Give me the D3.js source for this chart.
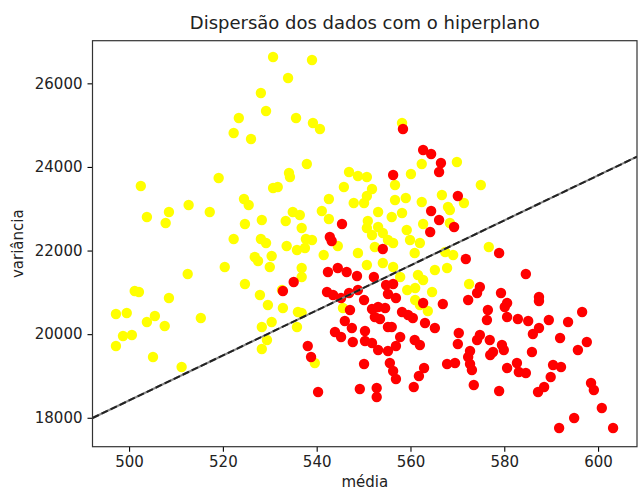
<!DOCTYPE html>
<html>
<head>
<meta charset="utf-8">
<script src="https://cdn.jsdelivr.net/npm/d3@7"></script>
<style>
  body { margin: 0; background: #fff; }
  svg { display: block; font-family: "DejaVu Sans", sans-serif; }
</style>
</head>
<body>
<div id="chart"></div>
<script>
// pontos da classe amarela: [média, variância]
let amarelos = [
  [530.7,26630],[539.0,26558],[533.9,26127],[528.1,25768],[529.2,25338],[523.4,25170],[522.3,24812],[526.0,24668],
  [535.6,25170],[539.2,25051],[540.7,24907],[558.2,25051],[502.5,23544],[519.1,23735],[524.5,23233],[525.5,23089],
  [503.8,22802],[508.5,22922],[507.8,22659],[512.7,23089],[517.2,22922],[524.7,22635],[528.3,22731],[522.3,22276],
  [528.1,22276],[529.2,22180],[526.8,21845],[527.5,21750],[530.0,21606],[520.4,21606],[512.5,21439],[524.7,21200],
  [527.9,20937],[501.2,21032],[502.1,21008],[508.5,20865],[497.2,20482],[499.5,20506],[503.8,20291],[505.5,20434],
  [507.6,20195],[515.3,20386],[498.7,19956],[500.6,19980],[497.2,19717],[505.1,19453],[511.2,19214],[528.3,20171],
  [530.4,20291],[528.3,19645],[529.4,19860],[537.9,24070],[534.1,23855],[534.3,23759],[530.7,23496],[531.7,23520],
  [546.9,23879],[548.8,23783],[550.7,23759],[545.8,23520],[551.8,23472],[550.7,23305],[542.6,23233],[547.9,23137],
  [550.1,23137],[556.7,23209],[559.0,23257],[562.4,23161],[562.4,24070],[560.1,23831],[556.7,23568],[569.9,24118],
  [575.0,23568],[566.7,23329],[571.4,23137],[568.0,23041],[568.4,22970],[568.4,22659],[541.1,22946],[534.9,22922],
  [536.4,22850],[533.4,22707],[542.6,22755],[553.1,22922],[556.0,22802],[558.2,22898],[550.9,22707],[562.7,22635],
  [559.2,22491],[553.1,22563],[554.1,22420],[550.7,22539],[536.8,22539],[537.7,22276],[539.0,22252],[533.6,22109],
  [535.8,22013],[537.5,22061],[551.8,22372],[555.2,22252],[556.3,22180],[559.9,22252],[562.0,22180],[552.4,22085],
  [548.8,21941],[544.5,22109],[541.5,21893],[530.4,21870],[567.4,21965],[569.1,21893],[560.9,21941],[576.7,22085],
  [567.8,21582],[572.5,21200],[550.7,21654],[554.1,21702],[556.3,21606],[557.8,21367],[561.6,21415],[562.7,21295],
  [559.3,21056],[561.0,21104],[564.6,21008],[561.0,20817],[562.0,20698],[563.7,20554],[565.2,21535],[536.8,21583],
  [536.8,21367],[532.6,21056],[529.6,20697],[532.8,20625],[536.0,20530],[536.8,20506],[535.8,20171],[539.6,19310],
  [545.6,20625]
]

// pontos da classe vermelha
let vermelhos = [
  [558.4,24907],[562.7,24405],[564.4,24309],[566.5,24094],[566.1,23879],[556.3,23807],[570.1,23305],[564.4,22946],
  [566.1,22731],[569.3,22563],[564.2,22444],[545.4,22635],[542.8,22324],[543.2,22228],[554.1,22037],[578.9,21941],
  [571.8,21798],[584.6,21439],[542.4,21486],[544.5,21582],[546.4,21486],[548.6,21391],[552.2,21367],[535.1,21248],
  [532.8,21032],[542.2,21008],[543.5,20937],[545.2,20865],[546.9,20984],[548.8,21056],[554.8,21176],[556.3,21200],
  [555.2,20960],[556.9,20865],[550.1,20817],[547.1,20578],[551.8,20602],[553.1,20650],[554.6,20626],[552.4,20410],
  [553.5,20362],[558.2,20530],[559.5,20458],[560.5,20386],[562.7,20745],[566.9,20721],[546.0,20315],[543.9,20052],
  [545.2,19932],[547.5,20147],[550.3,20075],[547.7,19812],[555.2,20171],[556.0,20171],[563.1,20267],[565.2,20147],
  [557.8,19932],[550.3,19836],[551.8,19788],[560.9,19860],[562.0,19741],[553.1,19621],[555.2,19597],[556.9,19717],
  [538.1,19717],[538.8,19453],[550.1,19286],[555.6,19310],[556.3,19119],[556.9,18927],[562.9,19190],[561.8,19000],
  [567.8,19286],[540.3,18616],[549.2,18688],[552.8,18712],[552.8,18497],[560.7,18736],[574.8,21128],[574.2,20984],
  [572.3,20817],[579.3,20984],[587.4,20889],[587.4,20793],[580.6,20745],[580.1,20650],[576.5,20578],[576.3,20339],
  [580.6,20410],[582.9,20362],[585.1,20315],[589.5,20339],[593.6,20291],[596.6,20530],[587.4,20147],[586.1,20004],
  [570.3,20028],[570.1,19764],[574.8,19980],[574.2,19860],[576.9,19860],[591.9,19908],[597.6,19812],[595.7,19621],
  [579.5,19741],[579.9,19621],[585.9,19573],[577.6,19573],[577.0,19501],[572.7,19597],[572.3,19453],[572.7,19286],
  [573.1,19143],[569.5,19310],[582.7,19310],[580.6,19190],[583.1,19095],[584.6,19071],[590.4,19262],[592.1,19214],
  [589.9,18975],[598.5,18832],[599.1,18664],[588.5,18736],[587.2,18616],[573.5,18784],[578.9,18640],[600.8,18233],
  [594.9,17994],[591.7,17755],[603.2,17755]
]

// hiperplano: variância = inclinacao * média + intercepto
let inclinacao = 53.84
let intercepto = -8506

let xLimites = [492.2, 608.3]
let yLimites = [17308, 27020]
let xTicks = [500, 520, 540, 560, 580, 600]
let yTicks = [18000, 20000, 22000, 24000, 26000]

let margin = {top: 40.7, right: 1, bottom: 44.3, left: 92.5},
    width = 638 - margin.left - margin.right,
    height = 491 - margin.top - margin.bottom

let svg = d3.select("#chart")
  .append("svg")
    .attr("width", 638)
    .attr("height", 491)

let g = svg.append("g")
    .attr("transform", "translate(" + margin.left + "," + margin.top + ")")

let x = d3.scaleLinear().domain(xLimites).range([0, width])
let y = d3.scaleLinear().domain(yLimites).range([height, 0])

g.append("clipPath").attr("id", "area")
  .append("rect").attr("width", width).attr("height", height)

let plot = g.append("g").attr("clip-path", "url(#area)")

plot.selectAll(".amarelo")
  .data(amarelos)
  .enter()
  .append("circle")
  .attr("cx", function(d){ return x(d[0]) })
  .attr("cy", function(d){ return y(d[1]) })
  .attr("r", 5.2)
  .attr("fill", "#ffff00")

plot.selectAll(".vermelho")
  .data(vermelhos)
  .enter()
  .append("circle")
  .attr("cx", function(d){ return x(d[0]) })
  .attr("cy", function(d){ return y(d[1]) })
  .attr("r", 5.2)
  .attr("fill", "#ff0000")

let linha = d3.line()
  .x(function(d){ return x(d) })
  .y(function(d){ return y(inclinacao * d + intercepto) })

plot.append("path")
  .datum(xLimites)
  .attr("fill", "none")
  .attr("stroke", "#888")
  .attr("stroke-width", 2)
  .attr("d", linha)

plot.append("path")
  .datum(xLimites)
  .attr("fill", "none")
  .attr("stroke", "#222")
  .attr("stroke-width", 2)
  .attr("stroke-dasharray", "7,3")
  .attr("d", linha)

// eixos
let eixoX = g.append("g")
  .attr("transform", "translate(0," + height + ")")
  .call(d3.axisBottom(x).tickValues(xTicks).tickFormat(d3.format("d")).tickSize(5).tickPadding(5).tickSizeOuter(0))

let eixoY = g.append("g")
  .call(d3.axisLeft(y).tickValues(yTicks).tickFormat(d3.format("d")).tickSize(5).tickPadding(5).tickSizeOuter(0))

;[eixoX, eixoY].forEach(function(a){
  a.select(".domain").remove()
  a.selectAll("line").attr("stroke", "#000").attr("stroke-width", 1.1)
  a.selectAll("text").attr("font-size", 15).attr("fill", "#222").attr("font-family", "DejaVu Sans")
})

g.append("rect")
  .attr("width", width)
  .attr("height", height)
  .attr("fill", "none")
  .attr("stroke", "#333")
  .attr("stroke-width", 1.2)

svg.append("text")
  .attr("x", margin.left + width / 2)
  .attr("y", 29)
  .attr("text-anchor", "middle")
  .attr("font-size", 18)
  .attr("fill", "#222")
  .text("Dispersão dos dados com o hiperplano")

svg.append("text")
  .attr("x", margin.left + width / 2)
  .attr("y", 487)
  .attr("text-anchor", "middle")
  .attr("font-size", 15)
  .attr("fill", "#222")
  .text("média")

svg.append("text")
  .attr("transform", "translate(23," + (margin.top + height / 2) + ") rotate(-90)")
  .attr("text-anchor", "middle")
  .attr("font-size", 15)
  .attr("fill", "#222")
  .text("variância")
</script>
</body>
</html>
